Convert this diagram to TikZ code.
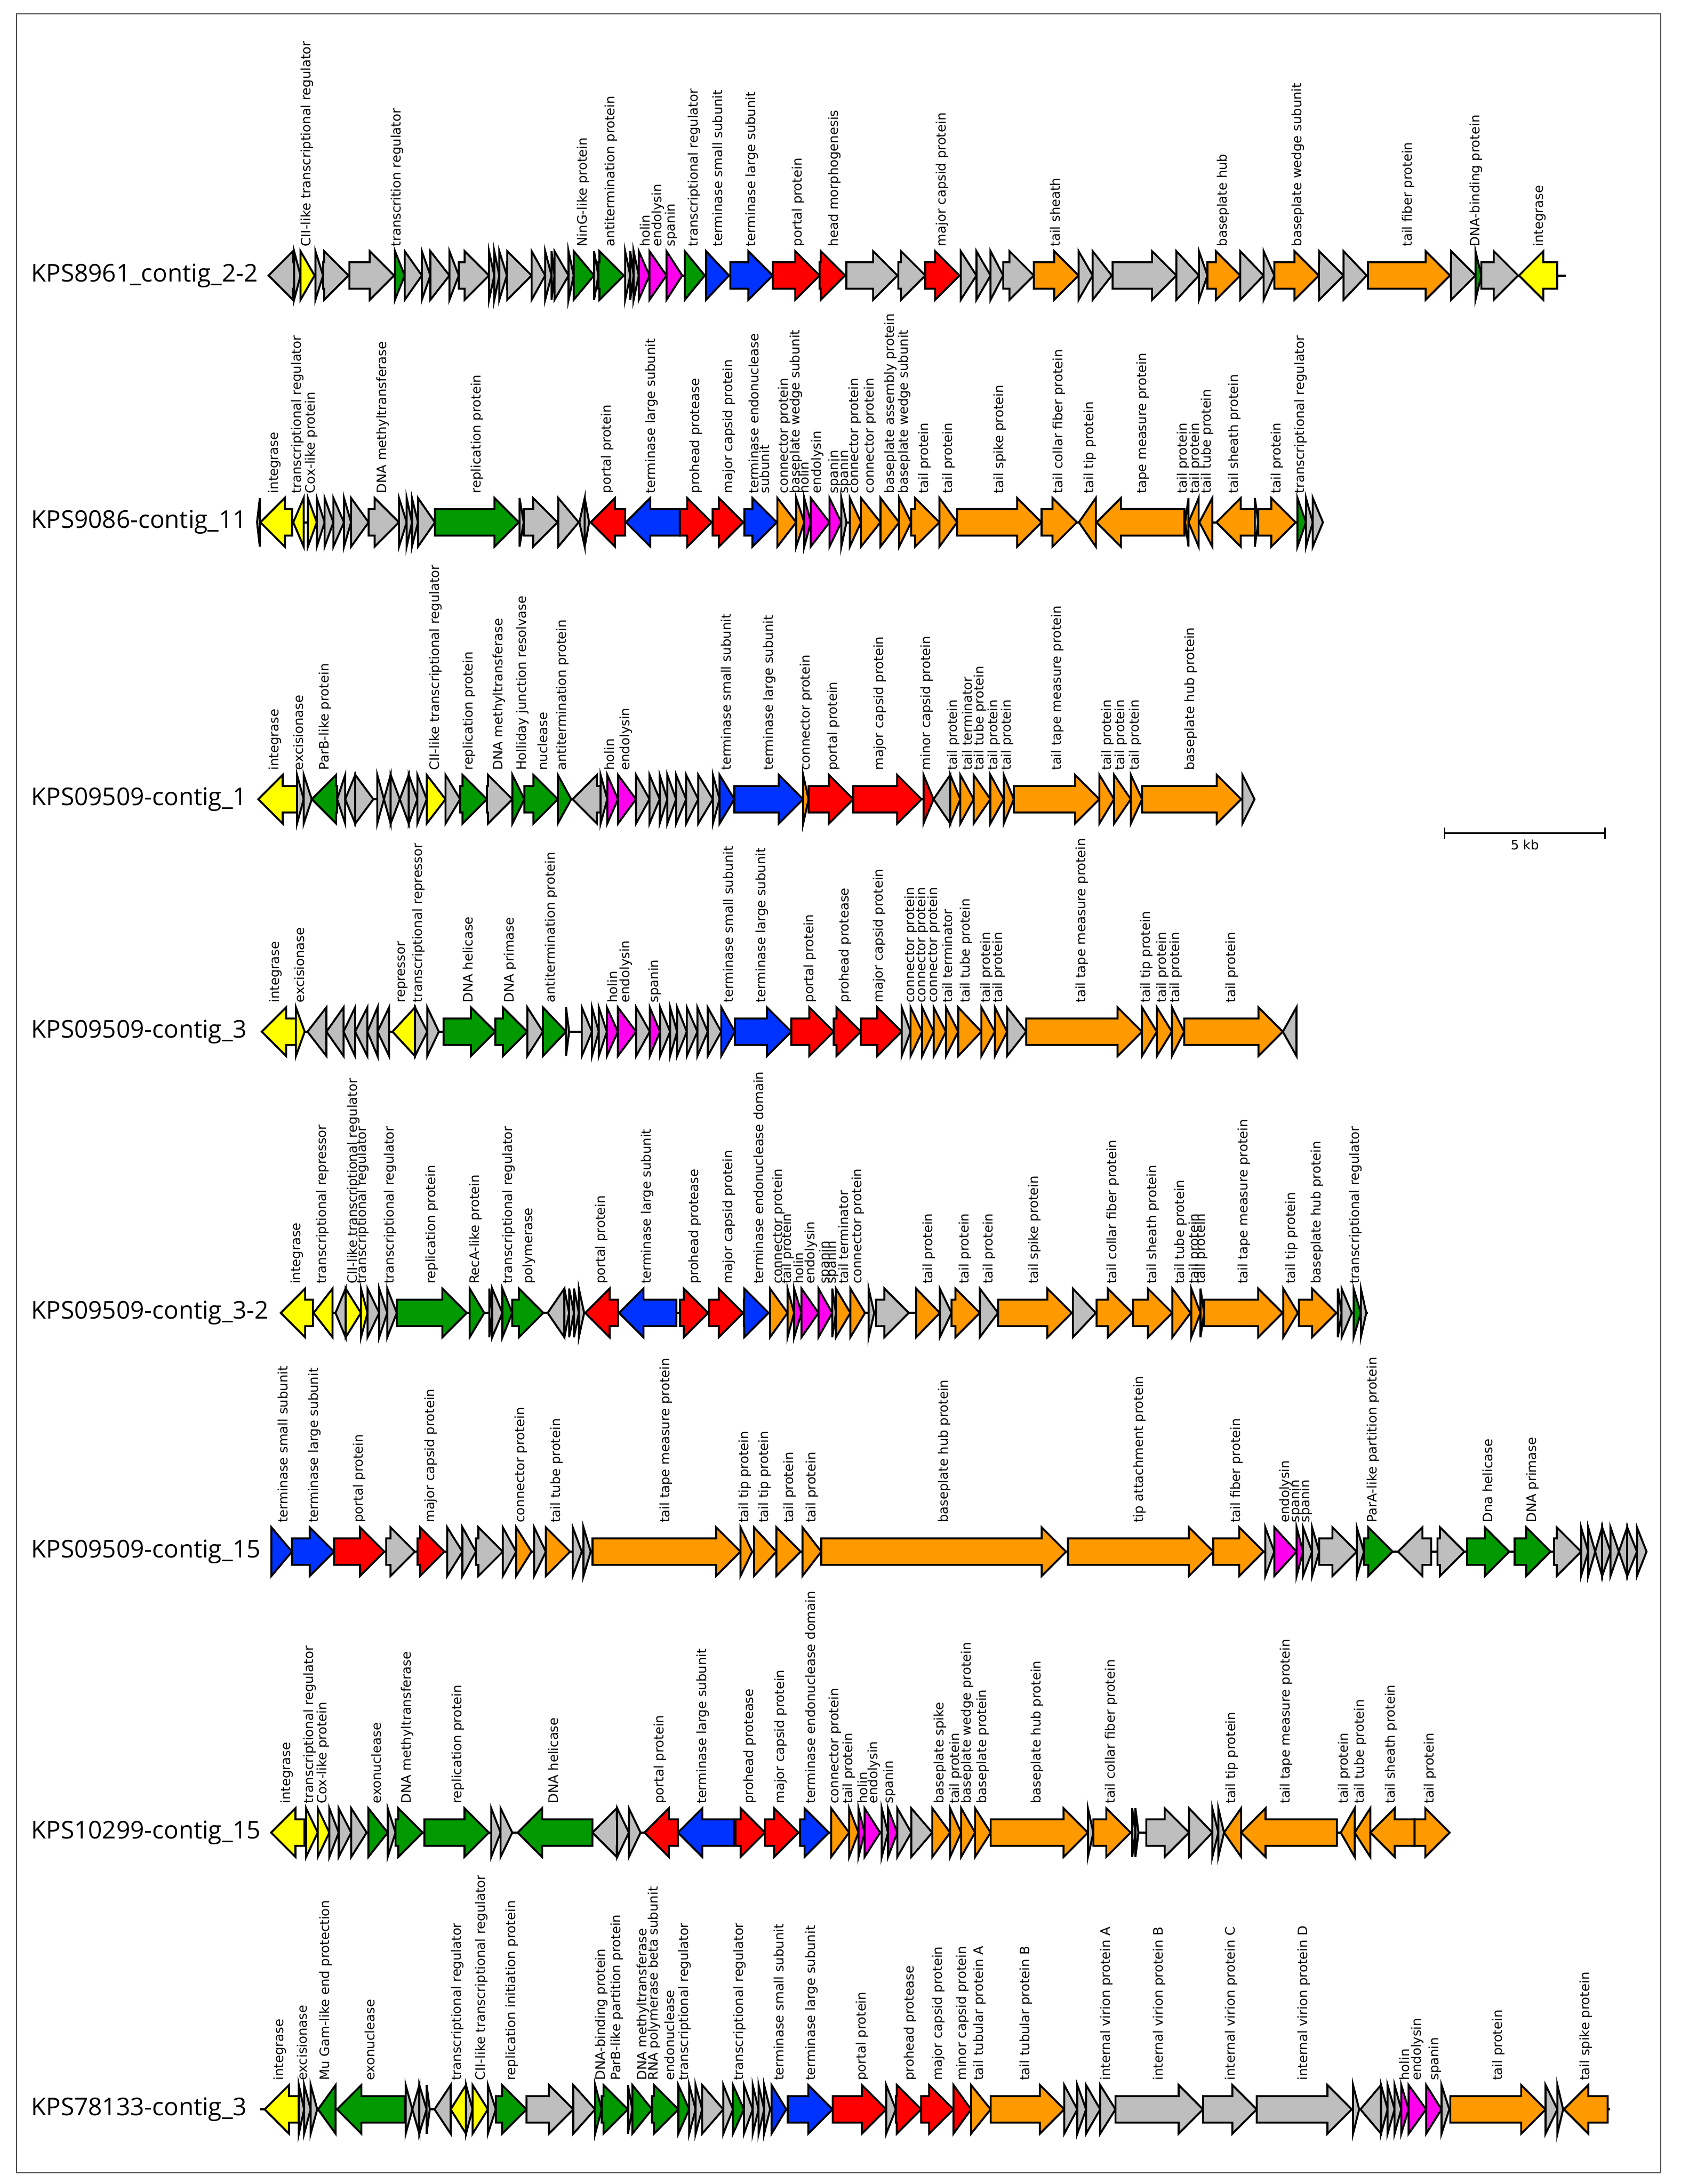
\documentclass[tikz,border=0pt]{standalone}
\usepackage{fontspec}
\newfontfamily\lblfont{DejaVu Sans}
\newfontfamily\trkfont{Open Sans}

\definecolor{cgray}{HTML}{BEBEBE}
\definecolor{cyel}{HTML}{FFFF00}
\definecolor{cgrn}{HTML}{009A00}
\definecolor{cblu}{HTML}{0033FF}
\definecolor{cred}{HTML}{FF0000}
\definecolor{cora}{HTML}{FF9900}
\definecolor{cmag}{HTML}{FF00EE}

\tikzset{
  gene/.style={draw=black, line width=0.8pt},
  backbone/.style={draw=black, line width=0.9pt},
  lbl/.style={rotate=90, anchor=west, inner sep=0pt, align=left,
              font={\lblfont\fontsize{5.3}{4.4}\selectfont}},
  trk/.style={anchor=west, inner sep=0pt, font={\trkfont\fontsize{10}{12}\selectfont}},
  frame/.style={draw=black!70, line width=0.5pt},
}

% arrow sizes (in picture units)
\newcommand{\ghl}{17.5}
\newcommand{\ghw}{17.5}
\newcommand{\gbw}{9.5}
% \gene{y}{tail}{tip}{colour}
\newcommand{\gene}[4]{%
  \pgfmathsetmacro{\glen}{abs(#3-#2)}%
  \pgfmathsetmacro{\gneck}{#3-sign(#3-#2)*\ghl}%
  \pgfmathtruncatemacro{\gtri}{\glen<=\ghl}%
  \ifnum\gtri=1
    \filldraw[gene, fill=#4] (#2,#1-\ghw) -- (#3,#1) -- (#2,#1+\ghw) -- cycle;
  \else
    \filldraw[gene, fill=#4] (#2,#1-\gbw) -- (\gneck,#1-\gbw) -- (\gneck,#1-\ghw)
      -- (#3,#1) -- (\gneck,#1+\ghw) -- (\gneck,#1+\gbw) -- (#2,#1+\gbw) -- cycle;
  \fi}

\begin{document}
\begin{tikzpicture}[x=0.02cm, y=-0.02cm]
  \useasboundingbox (0,0) rectangle (1212,1568);
  \draw[frame] (12,10) rectangle (1192,1560);

  % --- scale bar ---
  \coordinate (sb1) at (1037,598);
  \coordinate (sb2) at (1152,598);
  \draw[line width=0.6pt] (sb1) -- (sb2);
  \draw[line width=0.6pt] ([yshift=0.08cm]sb1) -- ([yshift=-0.08cm]sb1);
  \draw[line width=0.6pt] ([yshift=0.08cm]sb2) -- ([yshift=-0.08cm]sb2);
  \node[font={\lblfont\fontsize{5.3}{6}\selectfont}, inner sep=0pt] (sbl) at (1094.5,606.5) {5 kb};

  % --- track 1 ---
  \def\ty{197.8}
  \node[trk] (n1) at (22,\ty) {KPS8961\_contig\_2-2};
  \draw[backbone] (192,\ty) -- (1124,\ty);
  \foreach \gt/\gp/\gc in {211.1/192.8/cgray, 211.1/215.7/cgray, 215.7/225.8/cyel,
    226.4/231.9/cgray, 231.9/250.2/cgray, 250.8/282.9/cgray, 283.5/290.5/cgrn,
    290.5/302.8/cgray, 302.8/308.9/cgray, 308.9/322.6/cgray, 322.6/329.3/cgray,
    329.3/351/cgray, 351/354.8/cgray, 354.8/358.4/cgray, 358.4/363.8/cgray,
    363.8/381.6/cgray, 381.6/391.3/cgray, 391.3/395.9/cgray, 395.9/398/cgray,
    398/408.1/cgray, 408.1/411.8/cgray, 411.8/426.4/cgrn, 426.4/429.5/cgray,
    429.5/447.8/cgrn, 448.7/452.4/cgray, 452.4/454.8/cgray, 454.8/458.5/cgray,
    458.5/466.2/cmag, 466.2/478.4/cmag, 478.4/489.7/cmag, 491.5/505.9/cgrn,
    506.8/523.3/cblu, 524.2/554.7/cblu, 554.7/588.3/cred, 588.3/606.6/cred,
    607.5/644.2/cgray, 644.8/664.2/cgray, 664.2/688.7/cred, 689.6/700.9/cgray,
    700.9/711/cgray, 711/720.1/cgray, 720.1/742.1/cgray, 742.1/774.2/cora,
    774.2/784.3/cgray, 784.3/798/cgray, 798.6/844.4/cgray, 844.4/860.6/cgray,
    860.6/866.7/cgray, 866.7/890.2/cora, 890.2/907/cgray, 907/914.7/cgray,
    914.7/946.7/cora, 946.7/964.4/cgray, 964.4/981/cgray, 981.9/1040.8/cora,
    1041.4/1059.1/cgray, 1059.1/1063.3/cgrn, 1063.3/1089.7/cgray, 1117.8/1090.3/cyel}
    {\gene{\ty}{\gt}{\gp}{\gc}}
  \foreach \lx/\lt [count=\li] in {220.3/CII-like transcriptional regulator,
    285/transcrition regulator, 418.8/NinG-like protein, 438.7/antitermination protein,
    463/holin, 472.3/endolysin, 482/spanin, 498.2/transcriptional regulator,
    515/terminase small subunit, 539.5/terminase large subunit, 573/portal protein,
    599/head morphogenesis, 676.5/major capsid protein, 757.4/tail sheath,
    878/baseplate hub, 931.5/baseplate wedge subunit, 1010.9/tail fiber protein,
    1059.7/DNA-binding protein, 1105/integrase}
    {\node[lbl] (a\li) at (\lx,\ty-20.5) {\lt};}

  % --- track 2 ---
  \def\ty{375}
  \node[trk] (n2) at (22,\ty) {KPS9086-contig\_11};
  \draw[backbone] (184.5,\ty) -- (949.6,\ty);
  \foreach \gt/\gp/\gc in {186.5/184.5/cgray, 209.7/186.9/cyel, 218/210.5/cyel,
    221/227.4/cyel, 227.4/233/cgray, 233/239.3/cgray, 239.3/246.9/cgray,
    246.9/252/cgray, 252/264.6/cgray, 264.6/286.4/cgray, 286.4/291.9/cgray,
    291.9/295.7/cgray, 295.7/300/cgray, 300/312.2/cgray, 312.2/372.4/cgrn,
    372.9/375.9/cgray, 375.9/400.2/cgray, 400.7/415.4/cgray, 419.7/415.9/cgray,
    419.7/422.9/cgray, 448.8/424/cred, 488/449.3/cblu, 488/510.8/cred,
    511.5/533.5/cred, 534.3/557.6/cblu, 558/571.5/cora, 571.5/577.3/cora,
    577.3/582/cmag, 581.9/595.4/cmag, 595.4/603.9/cmag, 603.9/607.6/cgray,
    610/618/cora, 618/632/cora, 632/645.4/cora, 645.4/654/cora, 654/674.3/cora,
    674.3/687/cora, 687/747.6/cora, 747.6/773/cora, 786.6/774.4/cora,
    850.2/787.1/cora, 853.1/850.7/cora, 860.4/853.1/cora, 870.2/860.9/cora,
    900.7/873.1/cora, 900.7/903.2/cgray, 903.2/930/cora, 931.3/937.4/cgrn,
    937.4/942.3/cgray, 942.3/949.6/cgray}
    {\gene{\ty}{\gt}{\gp}{\gc}}
  \foreach \lx/\lt [count=\li] in {197/integrase, 213.5/transcriptional regulator,
    223.6/Cox-like protein, 274.7/DNA methyltransferase, 342.5/replication protein,
    436.1/portal protein, 467.8/terminase large subunit, 499.4/prohead protease,
    523.4/major capsid protein, 545/{terminase endonuclease\\subunit},
    563/connector protein, 571.5/baseplate wedge subunit, 577/holin,
    586.8/endolysin, 599/spanin, 606.4/spanin, 613.7/connector protein,
    624.7/connector protein, 639.3/baseplate assembly protein,
    649.1/baseplate wedge subunit, 663.8/tail protein, 680.9/tail protein,
    717.5/tail spike protein, 760.3/tail collar fiber protein, 782.3/tail tip protein,
    820.1/tape measure protein, 849.4/tail protein, 858/tail protein,
    866.5/tail tube protein, 886.1/tail sheath protein, 916.6/tail protein,
    933.7/transcriptional regulator}
    {\node[lbl] (b\li) at (\lx,\ty-20.5) {\lt};}

  % --- track 3 ---
  \def\ty{573.8}
  \node[trk] (n3) at (22,\ty) {KPS09509-contig\_1};
  \draw[backbone] (185.4,\ty) -- (900.5,\ty);
  \foreach \gt/\gp/\gc in {213.2/185.4/cyel, 213.2/218/cgray, 218/223.8/cgray,
    242/223.8/cgrn, 247.8/242/cgray, 255/247.8/cgray, 255/268/cgray,
    270.8/275.6/cgray, 280.4/275.6/cgray, 280.4/287/cgray, 293.4/287/cgray,
    293.4/299.6/cgray, 299.6/306.3/cgray, 306.3/319.8/cyel, 319.8/330.3/cgray,
    330.3/349.5/cgrn, 349.5/367.8/cgray, 367.8/376.4/cgrn, 376.4/400.4/cgrn,
    400.4/410/cgrn, 431.1/411/cgray, 431.1/435.9/cgray, 435.9/443.6/cmag,
    443.6/456.5/cmag, 456.5/466.2/cgray, 466.2/473.5/cgray, 473.5/479/cgray,
    479/485.3/cgray, 485.3/492.5/cgray, 492.5/501.2/cgray, 501.2/511.7/cgray,
    511.7/516.5/cgray, 516.5/527.1/cblu, 527.1/576.5/cblu, 576.5/580.4/cora,
    580.4/612.5/cred, 612.5/661.5/cred, 662.9/670.1/cred, 682.1/670.1/cgray,
    682.1/689.3/cora, 689.3/698.9/cora, 698.9/710.9/cora, 710.9/720.5/cora,
    720.5/727.7/cora, 727.7/789.1/cora, 789.1/799.7/cora, 799.7/811.7/cora,
    811.7/819.8/cora, 819.8/890.9/cora, 891.8/900.5/cgray}
    {\gene{\ty}{\gt}{\gp}{\gc}}
  \foreach \lx/\lt [count=\li] in {197.4/integrase, 214.2/excisionase,
    233.4/ParB-like protein, 312.6/CII-like transcriptional regulator,
    336.6/replication protein, 358.2/DNA methyltransferase,
    375/Holliday junction resolvase, 389.4/nuclease, 403.8/antitermination protein,
    437.4/holin, 449.4/endolysin, 521.3/terminase small subunit,
    552.5/terminase large subunit, 578.9/connector protein, 598.1/portal protein,
    631.7/major capsid protein, 665.3/minor capsid protein, 684.5/tail protein,
    694.1/tail terminator, 703.7/tail tube protein, 713.3/tail protein,
    722.9/tail protein, 758.9/tail tape measure protein, 794.9/tail protein,
    804.5/tail protein, 815/tail protein, 854.9/baseplate hub protein}
    {\node[lbl] (c\li) at (\lx,\ty-20.5) {\lt};}

  % --- track 4 ---
  \def\ty{740.7}
  \node[trk] (n4) at (22,\ty) {KPS09509-contig\_3};
  \draw[backbone] (187.9,\ty) -- (930.6,\ty);
  \foreach \gt/\gp/\gc in {212.4/187.9/cyel, 212.4/218.7/cyel, 234.3/220.7/cgray,
    246.6/234.3/cgray, 254.9/246.6/cgray, 263.7/254.9/cgray, 271/263.7/cgray,
    279.3/271/cgray, 297.9/281.7/cyel, 297.9/306.7/cgray, 306.7/315/cgray,
    318.4/355.5/cgrn, 355.5/378.5/cgrn, 378.5/389.7/cgray, 389.7/406.3/cgrn,
    406.3/408.5/cgray, 417.6/424.9/cgray, 424.9/429.8/cgray, 429.8/435.6/cgray,
    435.6/443.5/cmag, 443.5/456.6/cmag, 456.6/466.4/cgray, 466.4/473.8/cmag,
    473.8/481/cgray, 481/486/cgray, 486/493/cgray, 493/500.6/cgray,
    500.6/508/cgray, 508/517.7/cgray, 517.7/527.5/cblu, 527.5/568/cblu,
    568/598.4/cred, 598.4/617.9/cred, 617.9/647.2/cred, 647.2/653.6/cgray,
    653.6/661.9/cora, 661.9/670.2/cora, 670.2/679/cora, 679/687.8/cora,
    687.8/704.4/cora, 704.4/714.1/cora, 714.1/722.9/cora, 722.9/736.6/cgray,
    736.6/819.7/cora, 819.7/830.4/cora, 830.4/841.2/cora, 841.2/850/cora,
    850/920.8/cora, 930.6/920.8/cgray}
    {\gene{\ty}{\gt}{\gp}{\gc}}
  \foreach \lx/\lt [count=\li] in {197.7/integrase, 214.8/excisionase,
    289.1/repressor, 300.3/transcriptional repressor, 336/DNA helicase,
    366.3/DNA primase, 395.6/antitermination protein, 439.6/holin,
    449.3/endolysin, 469.9/spanin, 522.6/terminase small subunit,
    547/terminase large subunit, 581.3/portal protein, 606.7/prohead protease,
    631.1/major capsid protein, 653.6/connector protein, 661.9/connector protein,
    670.2/connector protein, 680/tail terminator, 693.6/tail tube protein,
    708.3/tail protein, 717.1/tail protein, 776.7/tail tape measure protein,
    823.1/tail tip protein, 834.3/tail protein, 844.1/tail protein,
    884.2/tail protein}
    {\node[lbl] (d\li) at (\lx,\ty-20.5) {\lt};}

  % --- track 5 ---
  \def\ty{942.6}
  \node[trk] (n5) at (22,\ty) {KPS09509-contig\_3-2};
  \draw[backbone] (201.5,\ty) -- (982,\ty);
  \foreach \gt/\gp/\gc in {224.6/201.5/cyel, 238.7/225.1/cyel, 248.1/240.8/cgray,
    248.1/259.1/cyel, 259.1/263.8/cyel, 263.8/272.2/cgray, 272.2/278/cgray,
    278/284.8/cgray, 284.8/335/cgrn, 337.1/347.6/cgrn, 351.2/353.3/cgray,
    353.3/360.6/cgray, 360.6/367.7/cgrn, 367.7/390/cgrn, 405.1/393.1/cgray,
    405.1/408.5/cgray, 408.5/412/cgray, 412/415.5/cgray, 415.5/419.3/cgray,
    443.6/420.1/cred, 485.5/444.4/cblu, 488.1/508.3/cred, 509/533.4/cred,
    533.9/551.7/cblu, 552.7/565.3/cora, 565.3/570/cora, 570/575.3/cmag,
    575.3/587.5/cmag, 587.5/597.4/cmag, 597.4/600/cgray, 600/610.4/cora,
    610.4/620.9/cora, 623.5/627.5/cgray, 628.8/652.3/cgray, 657.6/674.6/cora,
    674.6/683/cgray, 683/703.3/cora, 703.3/716.4/cgray, 716.4/769.3/cora,
    770.1/786.6/cgray, 787.1/812.7/cora, 813.3/841.5/cora, 841.5/854.6/cora,
    855.1/861.7/cora, 861.7/864.3/cora, 864.3/920.6/cora, 921.1/931.6/cora,
    932.3/959.3/cora, 960.3/963/cgray, 963/970.3/cgray, 971.6/976.8/cgrn,
    976.8/980.7/cgray}
    {\gene{\ty}{\gt}{\gp}{\gc}}
  \foreach \lx/\lt [count=\li] in {213.3/integrase, 231.6/transcriptional repressor,
    253.9/CII-like transcriptional regulator, 260.4/transcriptional regulator,
    280/transcriptional regulator, 310.1/replication protein,
    341.5/RecA-like protein, 365.1/transcriptional regulator, 379.5/polymerase,
    431.8/portal protein, 464.5/terminase large subunit, 498.6/prohead protease,
    523.4/major capsid protein, 544.4/terminase endonuclease domain,
    558.8/connector protein, 565.3/tail protein, 573.1/holin, 582.3/endolysin,
    592.5/spanin, 597.4/spanin, 605.2/tail terminator, 615.7/connector protein,
    666.7/tail protein, 692.9/tail protein, 709.9/tail protein,
    742.6/tail spike protein, 798.9/tail collar fiber protein,
    827.7/tail sheath protein, 847.3/tail tube protein, 857.8/tail protein,
    862.5/tail protein, 893.1/tail tape measure protein, 927.1/tail tip protein,
    945.4/baseplate hub protein, 972.9/transcriptional regulator}
    {\node[lbl] (e\li) at (\lx,\ty-20.5) {\lt};}

  % --- track 6 ---
  \def\ty{1114}
  \node[trk] (n6) at (22,\ty) {KPS09509-contig\_15};
  \draw[backbone] (194.8,\ty) -- (1181.9,\ty);
  \foreach \gt/\gp/\gc in {194.8/209.6/cblu, 209.6/239.8/cblu, 239.8/275.9/cred,
    277.2/297.8/cgray, 299.7/319/cred, 321/331.9/cgray, 331.9/341.6/cgray,
    341.6/360.9/cgray, 360.9/370.5/cgray, 370.5/381.5/cora, 383.4/391.8/cgray,
    391.8/409.2/cora, 411.1/417.6/cgray, 418.8/424/cgray, 425.3/531.5/cora,
    531.5/539.9/cora, 541.2/557.3/cora, 557.3/574.7/cora, 576/589.5/cora,
    589.5/765.2/cora, 766.6/870.9/cora, 870.9/907/cora, 908.2/914.7/cgray,
    914.7/930.7/cmag, 930.7/935.3/cmag, 935.3/941.8/cgray, 941.8/946.9/cgray,
    946.9/973.9/cgray, 973.9/979/cgray, 979/999.6/cgrn, 1027.3/1003.5/cgray,
    1031.8/1051.1/cgray, 1053.1/1083.3/cgrn, 1087.2/1113/cgrn,
    1115.5/1134.9/cgray, 1134.9/1140/cgray, 1140/1145/cgray, 1150/1145/cgray,
    1150/1156/cgray, 1156/1162/cgray, 1168/1162/cgray, 1168/1175/cgray,
    1175/1181.9/cgray}
    {\gene{\ty}{\gt}{\gp}{\gc}}
  \foreach \lx/\lt [count=\li] in {203.1/terminase small subunit,
    225.7/terminase large subunit, 257.9/portal protein, 309.4/major capsid protein,
    373.8/connector protein, 399.5/tail tube protein,
    478.1/tail tape measure protein, 534.7/tail tip protein, 548.9/tail tip protein,
    567/tail protein, 583/tail protein, 677.7/baseplate hub protein,
    818.1/tip attachment protein, 887.6/tail fiber protein, 923/endolysin,
    930/spanin, 937.5/spanin, 985.5/ParA-like partition protein,
    1067.9/Dna helicase, 1100.1/DNA primase}
    {\node[lbl] (f\li) at (\lx,\ty-20.5) {\lt};}

  % --- track 7 ---
  \def\ty{1315.7}
  \node[trk] (n7) at (22,\ty) {KPS10299-contig\_15};
  \draw[backbone] (194.6,\ty) -- (1040.6,\ty);
  \foreach \gt/\gp/\gc in {218.6/194.6/cyel, 219.7/228.1/cyel, 228.1/236.4/cyel,
    236.4/243.1/cgray, 243.1/252.1/cgray, 252.1/263.2/cgray, 264.4/278.3/cgrn,
    278.3/283.9/cgray, 283.9/303.4/cgrn, 304.6/350.9/cgrn, 352.6/359.3/cgray,
    359.3/367.7/cgray, 425.2/371.6/cgrn, 443/425.2/cgray, 443/451.4/cgray,
    451.4/459.8/cgray, 486.6/462.6/cred, 526.8/486.6/cblu, 527.9/549.1/cred,
    549.1/573.2/cred, 574.3/595/cblu, 596.6/609.5/cora, 609.5/616.2/cora,
    616.2/620.6/cmag, 620.6/631.8/cmag, 632.9/637.4/cgray, 637.4/644.1/cmag,
    644.1/654.1/cgray, 654.1/669.2/cgray, 669.2/682/cora, 682/689.9/cora,
    689.9/699.9/cora, 699.9/711.1/cora, 711.1/780.9/cora, 780.9/784.8/cgray,
    784.8/811.6/cora, 812.7/815/cgray, 815/817.2/cgray, 822.8/853.5/cgray,
    853.5/870.2/cgray, 870.2/874.5/cgray, 874.5/878.6/cgray, 890.9/878.6/cora,
    959.6/890.9/cora, 972.4/962.4/cora, 983.6/972.4/cora, 1015.4/983.6/cora,
    1015.4/1040.6/cora}
    {\gene{\ty}{\gt}{\gp}{\gc}}
  \foreach \lx/\lt [count=\li] in {205.7/integrase, 222.5/transcriptional regulator,
    232/Cox-like protein, 269.9/exonuclease, 292.3/DNA methyltransferase,
    328.6/replication protein, 397.3/DNA helicase, 473.8/portal protein,
    504.5/terminase large subunit, 538/prohead protease, 560.3/major capsid protein,
    581.5/terminase endonuclease domain, 599.4/connector protein,
    609.5/tail protein, 619/holin, 627.3/endolysin, 638.5/spanin,
    674.8/baseplate spike, 686/tail protein, 694.3/baseplate wedge protein,
    705.5/baseplate protein, 744.6/baseplate hub protein,
    797.6/tail collar fiber protein, 884.2/tail tip protein,
    923.3/tail tape measure protein, 965.1/tail protein, 976.3/tail tube protein,
    998.6/tail sheath protein, 1026.6/tail protein}
    {\node[lbl] (g\li) at (\lx,\ty-20.5) {\lt};}

  % --- track 8 ---
  \def\ty{1514.4}
  \node[trk] (n8) at (22,\ty) {KPS78133-contig\_3};
  \draw[backbone] (186.9,\ty) -- (1155.6,\ty);
  \foreach \gt/\gp/\gc in {214.5/190/cyel, 214.5/218.3/cgray, 218.3/223/cgray,
    223/227.7/cgray, 240.9/228.3/cgrn, 290.5/241.9/cgrn, 291.2/296/cgray,
    301/296/cgray, 301/306.2/cgray, 306.2/308.5/cgray, 323.5/311.9/cgray,
    334.5/323.5/cyel, 334.5/339.2/cgray, 339.2/350.2/cyel, 350.2/355.9/cgray,
    355.9/377.9/cgrn, 377.9/411.5/cgray, 411.5/427.2/cgray, 427.2/431.9/cgrn,
    431.9/450.7/cgrn, 450.7/453.9/cgray, 453.9/468/cgrn, 468/486.9/cgrn,
    486.9/494.7/cgrn, 494.7/499.3/cgray, 499.3/504/cgray, 504/519.2/cgray,
    519.2/526.1/cgray, 526.1/534/cgrn, 534/540.3/cgray, 540.3/544.5/cgray,
    544.5/548.5/cgray, 548.5/552.8/cgray, 553.8/564.4/cblu, 565.4/597.7/cblu,
    597.7/636.1/cred, 636.1/643/cgray, 643/661.2/cred, 661.2/684.4/cred,
    684.4/697/cred, 697/711.1/cora, 711.1/763.9/cora, 763.9/773.3/cgray,
    773.3/779.6/cgray, 779.6/789.7/cgray, 789.7/800.7/cgray, 800.7/863.5/cgray,
    863.5/902.1/cgray, 902.1/970.3/cgray, 971.2/975.6/cgray, 991.3/976.5/cgray,
    991.3/996/cgray, 996/1001/cgray, 1001/1005.8/cgray, 1005.8/1011.1/cmag,
    1011.1/1023.7/cmag, 1023.7/1034.7/cmag, 1034.7/1040.3/cgray,
    1041/1109.4/cora, 1109.4/1117.9/cgray, 1117.9/1122/cgray, 1154/1122.6/cora}
    {\gene{\ty}{\gt}{\gp}{\gc}}
  \foreach \lx/\lt [count=\li] in {201/integrase, 216.7/excisionase,
    234/Mu Gam-like end protection, 265.4/exonuclease,
    328.2/transcriptional regulator, 345.5/CII-like transcriptional regulator,
    367.5/replication initiation protein, 431.9/DNA-binding protein,
    442.9/ParB-like partition protein, 461.7/DNA methyltransferase,
    469.6/RNA polymerase beta subunit, 480.6/endonuclease,
    491.6/transcriptional regulator, 530.8/transcriptional regulator,
    559.1/terminase small subunit, 582.6/terminase large subunit,
    618.8/portal protein, 653.3/prohead protease, 673.5/major capsid protein,
    690.7/minor capsid protein, 703.3/tail tubular protein A,
    736.3/tail tubular protein B, 794.4/internal virion protein A,
    832.1/internal virion protein B, 883.9/internal virion protein C,
    935.7/internal virion protein D, 1008/holin, 1017.4/endolysin,
    1030/spanin, 1075.5/tail protein, 1138.3/tail spike protein}
    {\node[lbl] (h\li) at (\lx,\ty-20.5) {\lt};}
\end{tikzpicture}
\end{document}
